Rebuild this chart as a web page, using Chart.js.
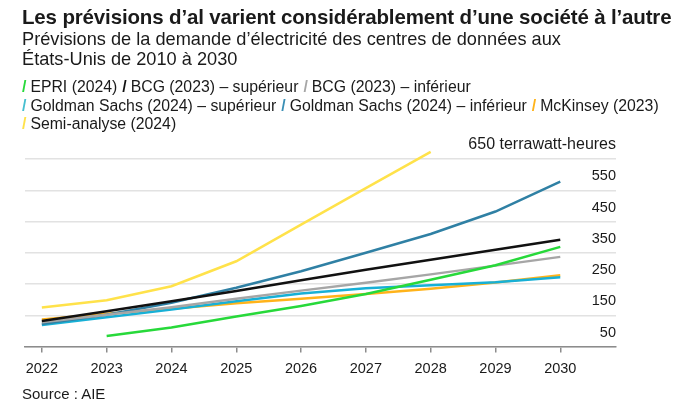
<!DOCTYPE html>
<html lang="fr">
<head>
<meta charset="utf-8">
<script src="https://cdn.jsdelivr.net/npm/chart.js@4"></script>
<style>
  body { margin: 0; background: #fff; font-family: "Liberation Sans", Arial, sans-serif; color: #1a1a1a; }
  #wrap { position: relative; width: 685px; height: 417px; overflow: hidden; }
  #myChart { position: absolute; left: 0; top: 0; }
  .title { position: absolute; left: 22px; top: 5px; font-size: 20.5px; line-height: 24px; font-weight: bold; letter-spacing: -0.15px; white-space: nowrap; }
  .subtitle { position: absolute; left: 22px; top: 29px; font-size: 18.2px; line-height: 20px; white-space: nowrap; }
  #legend { position: absolute; left: 22px; top: 78px; font-size: 15.8px; line-height: 18.5px; white-space: nowrap; }
  #legend .slash { font-weight: bold; margin-right: 4px; }
  #legend .item { margin-right: 5px; }
  .source { position: absolute; left: 22px; top: 385px; font-size: 15px; line-height: 18px; }
</style>
</head>
<body>
<div id="wrap">
  <canvas id="myChart" width="685" height="417"></canvas>
  <div class="title">Les prévisions d’al varient considérablement d’une société à l’autre</div>
  <div class="subtitle">Prévisions de la demande d’électricité des centres de données aux<br>États-Unis de 2010 à 2030</div>
  <div id="legend"></div>
  <div class="source">Source : AIE</div>
</div>
<script>
// Years on the x axis
const years = [2022, 2023, 2024, 2025, 2026, 2027, 2028, 2029, 2030];

// Forecasts in TWh
const epri = [null, 84, 111, 146, 180, 218, 264, 310, 369];
const bcgHigh = [132, 163, 195, 228, 262, 296, 328, 360, 392];
const bcgLow = [128, 152, 176, 203, 229, 254, 281, 309, 337];
const gsHigh = [122, 152, 190, 238, 291, 350, 410, 482, 578];
const gsLow = [119, 144, 169, 195, 220, 237, 246, 256, 272];
const mckinsey = [137, 155, 171, 189, 203, 218, 235, 255, 278];
const semi = [175, 198, 243, 323, 440, 557, 673, null, null];

// Series names and colours
const seriesNames = [
    "EPRI (2024)",
    "BCG (2023) – supérieur",
    "BCG (2023) – inférieur",
    "Goldman Sachs (2024) – supérieur",
    "Goldman Sachs (2024) – inférieur",
    "McKinsey (2023)",
    "Semi-analyse (2024)"
];
const lineColors = ["#27d93a", "#111111", "#a6a6a6", "#2f80a4", "#17b0d6", "#ffb31a", "#ffe24a"];
const legendColors = ["#27d93a", "#111111", "#a6a6a6", "#46bfd0", "#3a8fb5", "#ffb31a", "#ffe24a"];

// y axis ticks
const yTicks = [50, 150, 250, 350, 450, 550, 650];

const allSeries = [epri, bcgHigh, bcgLow, gsHigh, gsLow, mckinsey, semi];

function toPoints(values) {
    return years.map((y, i) => ({ x: y, y: values[i] }));
}

const datasets = allSeries.map((values, i) => ({
    label: seriesNames[i],
    data: toPoints(values),
    borderColor: lineColors[i],
    borderWidth: 2.5,
    pointRadius: 0,
    tension: 0,
    clip: false,
    spanGaps: false
}));

// Legend with coloured slashes, three rows like the original
const legend = document.getElementById("legend");
seriesNames.forEach((name, i) => {
    const item = document.createElement("span");
    item.className = "item";
    item.innerHTML = '<span class="slash" style="color:' + legendColors[i] + '">/</span>' + name;
    legend.appendChild(item);
    if (i === 2 || i === 5) legend.appendChild(document.createElement("br"));
});

new Chart("myChart", {
    type: "line",
    data: { datasets: datasets },
    options: {
        responsive: false,
        animation: false,
        layout: { padding: { left: 25, right: 69, top: 159, bottom: 31 } },
        plugins: { legend: { display: false }, tooltip: { enabled: false } },
        scales: {
            x: {
                type: "linear",
                min: 2021.74,
                max: 2030.86,
                afterBuildTicks: (scale) => { scale.ticks = years.map(v => ({ value: v })); },
                grid: { drawOnChartArea: false, drawTicks: true, tickLength: 6, color: "#8c8c8c", lineWidth: 1.5 },
                border: { display: true, color: "#8c8c8c", width: 1.5 },
                ticks: {
                    padding: 8,
                    color: "#1a1a1a",
                    font: { family: "Liberation Sans", size: 14.5 },
                    callback: (v) => String(v),
                    maxRotation: 0,
                    autoSkip: false
                }
            },
            y: {
                position: "right",
                min: 50,
                max: 650,
                afterBuildTicks: (scale) => { scale.ticks = yTicks.map(v => ({ value: v })); },
                grid: { color: "#e2e2e2", lineWidth: 1.5, drawTicks: false },
                border: { display: false },
                ticks: {
                    mirror: true,
                    padding: 0,
                    labelOffset: -14,
                    color: "#1a1a1a",
                    font: (ctx) => ({ family: "Liberation Sans", size: ctx.tick && ctx.tick.value === 650 ? 16 : 14.5 }),
                    autoSkip: false,
                    callback: (v) => v === 650 ? "650 terrawatt-heures" : String(v)
                }
            }
        }
    }
});
</script>
</body>
</html>
